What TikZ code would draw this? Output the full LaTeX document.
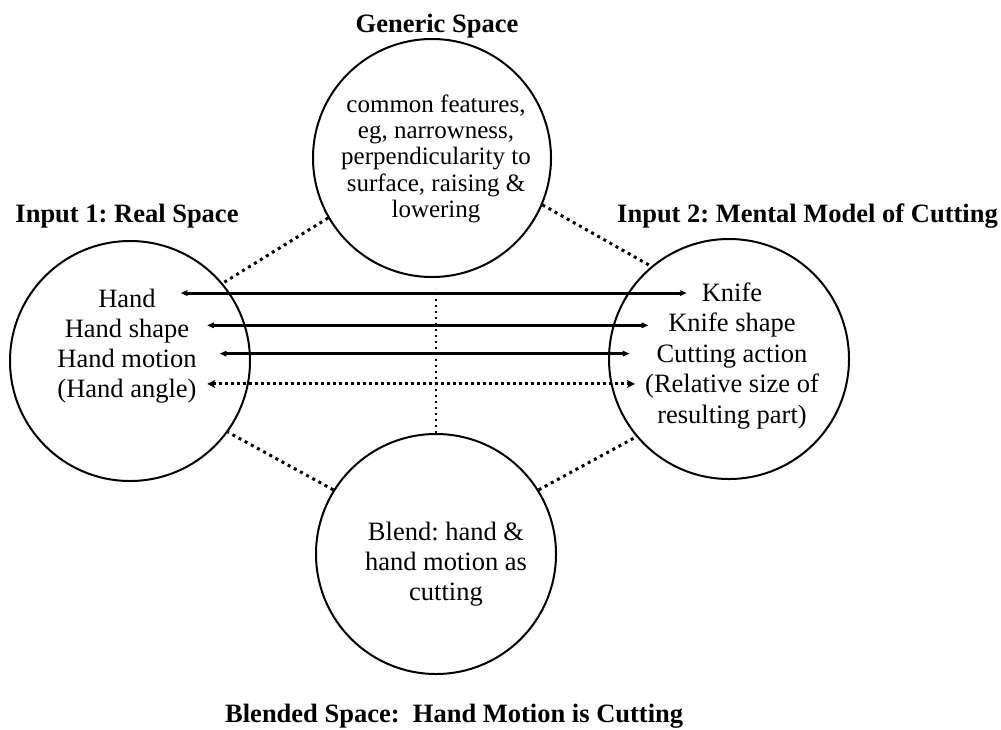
\documentclass[tikz,border=0pt]{standalone}
\usepackage{fontspec}
\setmainfont{Liberation Serif}
\usepackage{tikz}
\usetikzlibrary{matrix,calc,positioning,arrows.meta}
\frenchspacing

\begin{document}
\begin{tikzpicture}[x=1pt,y=-1pt,
    >={Stealth[length=11pt,width=10pt,inset=7pt]},
    space/.style={circle,draw,line width=2pt,minimum size=240pt,inner sep=0pt},
    txt/.style={font=\fontsize{26.5}{30}\selectfont},
    ttl/.style={font=\fontsize{26.5}{30}\selectfont\bfseries,inner sep=0pt},
    link/.style={<->,line width=3pt},
    weak/.style={{Stealth[length=8pt,width=8pt,inset=2pt]}-{Stealth[length=8pt,width=8pt,inset=2pt]},
                 line width=3pt,dash pattern=on 3.3pt off 2.7pt},
    conn/.style={line width=3pt,dash pattern=on 3pt off 4pt},
    vconn/.style={line width=2pt,dash pattern=on 2pt off 4pt}]

    \useasboundingbox (0,0) rectangle (1001,729);

    \node[space,minimum size=238pt] (generic) at (432,158) {};
    \node[space] (input1) at (130,361) {};
    \node[space] (input2) at (729,359) {};
    \node[space] (blend)  at (436,554) {};

    \node[ttl,anchor=base]      (gtitle) at (437,32)  {Generic Space};
    \node[ttl,anchor=base]      (ititle) at (127,222) {Input 1: Real Space};
    \node[ttl,anchor=base east] (mtitle) at (998,222) {Input 2: Mental Model of Cutting};
    \node[ttl,anchor=base west] (btitle) at (225,722) {Blended Space:~~Hand Motion is Cutting};

    \node[font=\fontsize{25}{26.3}\selectfont,align=center,inner sep=0pt] (gtext) at (436,158.8)
        {common features,\\ eg, narrowness,\\ perpendicularity to\\ surface, raising \&\\ lowering};
    \node[txt,align=center,inner sep=0pt] (btext) at (446,564)
        {Blend: hand \&\\ hand motion as\\ cutting};

    \matrix [matrix of nodes, nodes={txt,inner sep=0pt,text height=18pt,text depth=6pt},
             row sep=6.3pt] (L) at (127,346.5) {
    Hand \\
    Hand shape \\
    Hand motion \\
    (Hand angle) \\
    };

    \matrix [matrix of nodes, nodes={txt,inner sep=0pt,text height=18pt,text depth=6pt},
             row sep=6.5pt] (R) at (732,356) {
    Knife \\
    Knife shape \\
    Cutting action \\
    (Relative size of \\
    resulting part) \\
    };

    \draw[link,shorten <=25pt,shorten >=15pt]
        ([yshift=8pt]L-1-1.east) -- ([yshift=8pt]L-1-1.east -| R-1-1.west);
    \draw[link,shorten <=18pt,shorten >=20pt]
        ([yshift=6pt]L-2-1.east) -- ([yshift=6pt]L-2-1.east -| R-2-1.west);
    \draw[link,shorten <=23pt,shorten >=27pt]
        ([yshift=8pt]L-3-1.east) -- ([yshift=8pt]L-3-1.east -| R-3-1.west);
    \draw[weak,shorten <=10.5pt,shorten >=10pt]
        ([yshift=8pt]L-4-1.east) -- ([yshift=8pt]L-4-1.east -| R-4-1.west);

    \draw[conn] (generic.210) -- (input1.40);
    \draw[conn] (generic.-23) -- (input2.130);
    \draw[conn] (blend.148)   -- (input1.-36);
    \draw[conn] (blend.32)    -- (input2.220);

    \draw[vconn,shorten >=11pt] (blend.north) -- (blend.north |- generic.south);

\end{tikzpicture}
\end{document}
